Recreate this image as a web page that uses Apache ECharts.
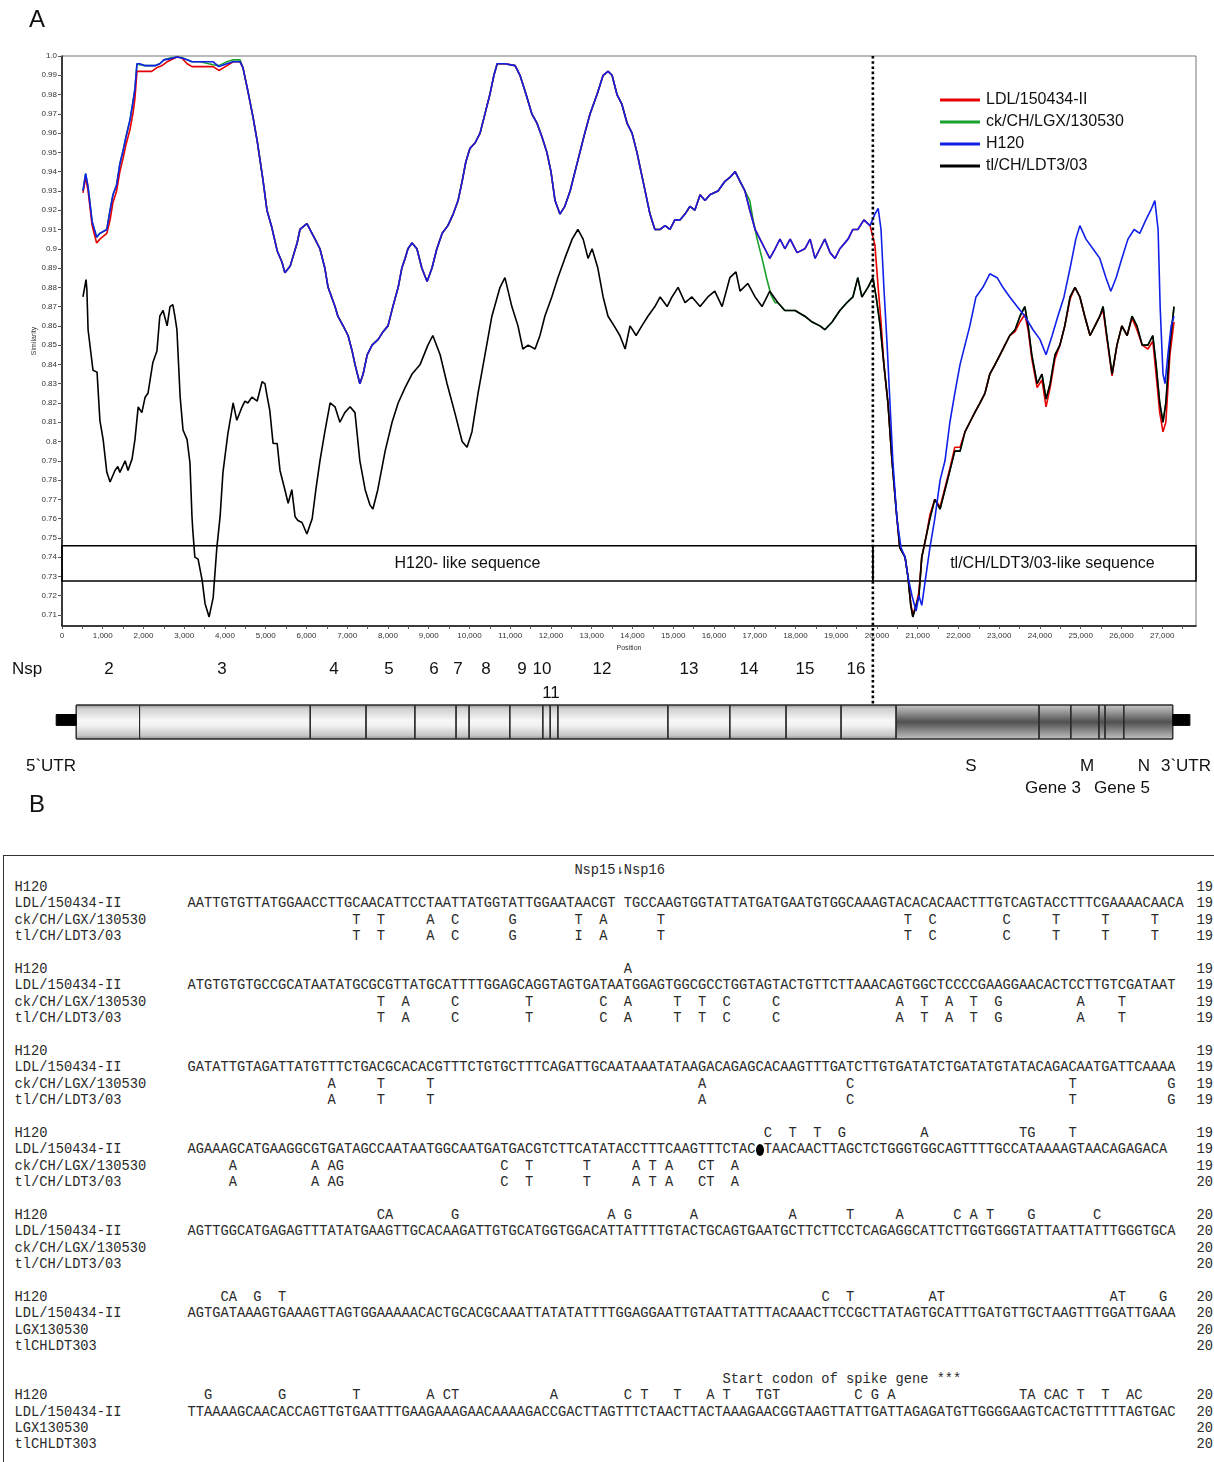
<!DOCTYPE html>
<html><head><meta charset="utf-8">
<script src="https://cdn.jsdelivr.net/npm/echarts@6/dist/echarts.min.js"></script>
<style>
html,body{margin:0;padding:0;background:#fff;width:1214px;height:1462px;overflow:hidden;}
#chart{position:absolute;left:0;top:0;width:1214px;height:852px;}
#align{position:absolute;left:3px;top:855px;width:1260px;height:640px;border-left:1.5px solid #333;border-top:1.5px solid #333;overflow:hidden;font-family:'Liberation Mono','DejaVu Sans Mono',monospace;font-size:13.72px;color:#2a2a2a;}
#align span{position:absolute;white-space:pre;height:16.4px;line-height:16.4px;}
.dot{position:static !important;display:inline-block;width:8.23px;height:12px !important;background:#000;border-radius:50%;vertical-align:middle;}
</style></head><body>
<div id="chart"></div>
<div id="align"></div>
<script>
// ---------------- Panel A data (position in bp, similarity) ----------------
const breakPos = 19900;
const xTicks = [0,1000,2000,3000,4000,5000,6000,7000,8000,9000,10000,11000,12000,13000,14000,15000,16000,17000,18000,19000,20000,21000,22000,23000,24000,25000,26000,27000];
const yTicks = [0.71,0.72,0.73,0.74,0.75,0.76,0.77,0.78,0.79,0.80,0.81,0.82,0.83,0.84,0.85,0.86,0.87,0.88,0.89,0.90,0.91,0.92,0.93,0.94,0.95,0.96,0.97,0.98,0.99,1.0];
const yTickLabels = ['0.71','0.72','0.73','0.74','0.75','0.76','0.77','0.78','0.79','0.8','0.81','0.82','0.83','0.84','0.85','0.86','0.87','0.88','0.89','0.9','0.91','0.92','0.93','0.94','0.95','0.96','0.97','0.98','0.99','1.0'];
const seriesNames = ['LDL/150434-II','ck/CH/LGX/130530','H120','tl/CH/LDT3/03'];

const h120Start = [[515,0.930],[580,0.939],[640,0.932],[740,0.914],[850,0.906],[930,0.908],[1100,0.910],[1180,0.920],[1250,0.928],[1340,0.933],[1420,0.944],[1500,0.951],[1570,0.958],[1670,0.967],[1740,0.976],[1790,0.983],[1840,0.996],[1910,0.996],[2040,0.995],[2280,0.995],[2400,0.996],[2500,0.998],[2650,0.9985],[2820,0.9995],[2940,0.999],[3070,0.998],[3190,0.997],[3390,0.997],[3710,0.997],[3850,0.9945],[4050,0.996],[4200,0.997],[4370,0.997]];
const ldlStart = [[515,0.929],[580,0.937],[640,0.930],[740,0.912],[850,0.903],[930,0.905],[1100,0.908],[1180,0.915],[1250,0.924],[1340,0.930],[1420,0.940],[1500,0.947],[1570,0.954],[1670,0.962],[1740,0.970],[1790,0.978],[1840,0.992],[1910,0.992],[2040,0.992],[2200,0.992],[2330,0.994],[2450,0.995],[2580,0.997],[2820,0.9995],[2940,0.999],[3070,0.996],[3190,0.9945],[3390,0.9945],[3710,0.9945],[3850,0.9925],[4050,0.995],[4200,0.997],[4370,0.997]];
const lgxStart = [[515,0.930],[580,0.939],[640,0.932],[740,0.914],[850,0.906],[930,0.908],[1100,0.910],[1180,0.920],[1250,0.928],[1340,0.933],[1420,0.944],[1500,0.951],[1570,0.958],[1670,0.967],[1740,0.976],[1790,0.983],[1840,0.996],[1910,0.9955],[2040,0.995],[2280,0.995],[2400,0.996],[2500,0.998],[2650,0.999],[2820,0.9995],[2940,0.9992],[3070,0.998],[3190,0.997],[3390,0.997],[3710,0.9955],[3850,0.995],[4050,0.997],[4200,0.998],[4370,0.998]];
const h120Mid = [[4440,0.994],[4560,0.982],[4690,0.968],[4790,0.956],[4930,0.936],[5030,0.920],[5150,0.911],[5280,0.899],[5400,0.893],[5470,0.8875],[5600,0.891],[5770,0.903],[5840,0.910],[6010,0.913],[6210,0.905],[6330,0.900],[6450,0.890],[6530,0.880],[6700,0.870],[6770,0.865],[6900,0.860],[7020,0.855],[7120,0.847],[7190,0.840],[7310,0.830],[7390,0.835],[7490,0.845],[7610,0.850],[7760,0.853],[7880,0.857],[8000,0.860],[8120,0.870],[8250,0.880],[8340,0.890],[8420,0.895],[8490,0.900],[8590,0.903],[8710,0.900],[8830,0.890],[8960,0.883],[9080,0.890],[9200,0.900],[9330,0.908],[9470,0.912],[9600,0.918],[9720,0.925],[9820,0.935],[9910,0.945],[10010,0.952],[10140,0.955],[10260,0.960],[10380,0.970],[10500,0.980],[10600,0.990],[10680,0.996],[10870,0.996],[11120,0.995],[11240,0.990],[11390,0.980],[11530,0.970],[11660,0.965],[11780,0.958],[11900,0.950],[12000,0.940],[12100,0.925],[12220,0.918],[12340,0.922],[12470,0.930],[12590,0.940],[12710,0.950],[12830,0.960],[12960,0.970],[13130,0.980],[13280,0.990],[13400,0.992],[13500,0.990],[13620,0.980],[13740,0.975],[13870,0.965],[13990,0.960],[14110,0.950],[14210,0.940],[14310,0.930],[14430,0.918],[14550,0.910],[14680,0.910],[14800,0.912],[14920,0.910],[15040,0.915],[15170,0.915],[15290,0.918],[15410,0.922],[15530,0.920],[15660,0.928],[15780,0.925],[15900,0.928],[16100,0.930],[16270,0.935],[16390,0.937],[16520,0.940],[16640,0.935],[16760,0.930]];
const h120Tail = [[16880,0.920],[17010,0.910],[17130,0.905],[17250,0.900],[17370,0.895],[17500,0.900],[17620,0.905],[17740,0.900],[17870,0.905],[18040,0.898],[18230,0.900],[18360,0.905],[18480,0.895],[18600,0.900],[18720,0.905],[18850,0.898],[18970,0.895],[19090,0.900],[19290,0.905],[19410,0.910],[19530,0.910],[19680,0.915],[19830,0.912]];
const h120End = [[19950,0.918],[20030,0.921],[20100,0.910],[20170,0.880],[20250,0.850],[20320,0.820],[20390,0.790],[20490,0.760],[20590,0.745],[20690,0.740],[20760,0.730],[20860,0.720],[20960,0.712],[21030,0.720],[21100,0.715],[21200,0.730],[21300,0.745],[21420,0.760],[21550,0.780],[21670,0.790],[21790,0.810],[21910,0.825],[22040,0.840],[22160,0.850],[22280,0.860],[22430,0.875],[22600,0.880],[22770,0.887],[22950,0.885],[23090,0.880],[23260,0.875],[23440,0.870],[23630,0.865],[23830,0.858],[24000,0.853],[24150,0.845],[24300,0.855],[24440,0.865],[24590,0.875],[24740,0.890],[24880,0.905],[24980,0.912],[25130,0.905],[25300,0.900],[25470,0.895],[25620,0.885],[25740,0.878],[25870,0.885],[26010,0.895],[26160,0.905],[26310,0.910],[26450,0.908],[26600,0.915],[26720,0.920],[26820,0.925],[26900,0.910],[26950,0.870],[27020,0.835],[27070,0.830],[27140,0.845],[27220,0.860],[27290,0.865]];
const ldlDrop = [[19950,0.902],[20030,0.880],[20100,0.862]];
const lgxDrop = [[16880,0.925],[16960,0.915],[17060,0.905],[17180,0.895],[17290,0.885],[17400,0.876],[17500,0.872]];
const tlHead = [[515,0.875],[590,0.884],[610,0.879],[640,0.858],[760,0.837],[860,0.836],[930,0.811],[1010,0.801],[1100,0.784],[1180,0.779],[1300,0.785],[1370,0.787],[1420,0.784],[1550,0.790],[1620,0.785],[1720,0.791],[1790,0.801],[1870,0.818],[1960,0.815],[2040,0.823],[2110,0.825],[2230,0.841],[2330,0.847],[2400,0.865],[2480,0.868],[2580,0.860],[2650,0.870],[2720,0.871],[2770,0.865],[2820,0.858],[2900,0.823],[2970,0.806],[3070,0.801],[3140,0.789],[3190,0.761],[3210,0.754],[3260,0.740],[3340,0.739],[3440,0.728],[3510,0.716],[3610,0.709],[3710,0.719],[3800,0.745],[3880,0.761],[3950,0.784],[4070,0.804],[4200,0.820],[4290,0.811],[4420,0.818],[4490,0.821],[4560,0.820],[4660,0.823],[4790,0.821],[4910,0.831],[4980,0.830],[5030,0.824],[5100,0.816],[5180,0.799],[5280,0.799],[5350,0.785],[5470,0.775],[5550,0.768],[5640,0.775],[5720,0.761],[5790,0.759],[5890,0.758],[6010,0.752],[6140,0.760],[6230,0.775],[6330,0.790],[6450,0.805],[6580,0.820],[6700,0.818],[6820,0.810],[6940,0.815],[7070,0.818],[7190,0.815],[7310,0.790],[7440,0.775],[7560,0.767],[7630,0.765],[7750,0.775],[7930,0.795],[8100,0.810],[8250,0.820],[8420,0.828],[8590,0.835],[8790,0.840],[8980,0.850],[9100,0.855],[9280,0.845],[9450,0.830],[9640,0.815],[9820,0.800],[9940,0.797],[10060,0.805],[10210,0.825],[10380,0.845],[10550,0.865],[10750,0.880],[10870,0.885],[11040,0.870],[11190,0.860],[11310,0.848],[11440,0.850],[11610,0.848],[11730,0.855],[11850,0.865],[12020,0.875],[12170,0.885],[12340,0.895],[12520,0.905],[12660,0.910],[12790,0.905],[12910,0.895],[13010,0.900],[13150,0.890],[13280,0.875],[13400,0.865],[13550,0.860],[13690,0.855],[13820,0.848],[13940,0.860],[14090,0.855],[14230,0.860],[14380,0.865],[14550,0.870],[14680,0.875],[14850,0.870],[14970,0.875],[15120,0.880],[15290,0.872],[15460,0.875],[15660,0.870],[15850,0.875],[16020,0.878],[16200,0.870],[16390,0.885],[16540,0.888],[16640,0.878],[16830,0.882],[17010,0.875],[17180,0.870],[17370,0.878]];
const tlMid = [[17570,0.872],[17740,0.868],[17990,0.868],[18230,0.865],[18410,0.862],[18600,0.860],[18720,0.858],[18900,0.862],[19090,0.868],[19260,0.872],[19410,0.875],[19530,0.885],[19630,0.875],[19780,0.880],[19900,0.885],[19980,0.875],[20080,0.860]];
const tlEnd = [[20170,0.840],[20270,0.820],[20370,0.790],[20470,0.765],[20560,0.745],[20690,0.740],[20760,0.730],[20830,0.715],[20880,0.709],[20960,0.715],[21030,0.720],[21100,0.740],[21200,0.750],[21300,0.760],[21420,0.770],[21550,0.765],[21670,0.775],[21790,0.785],[21910,0.795],[22040,0.795],[22160,0.805],[22280,0.810],[22400,0.815],[22530,0.820],[22650,0.825],[22770,0.835],[22900,0.840],[23020,0.845],[23140,0.850],[23260,0.855],[23390,0.858],[23510,0.865],[23630,0.870],[23710,0.860],[23800,0.845],[23930,0.830],[24050,0.835],[24150,0.822],[24250,0.830],[24370,0.845],[24490,0.850],[24610,0.860],[24740,0.875],[24860,0.880],[24980,0.875],[25100,0.865],[25230,0.855],[25350,0.860],[25470,0.865],[25550,0.870],[25640,0.855],[25770,0.835],[25890,0.850],[26010,0.860],[26140,0.855],[26260,0.865],[26380,0.860],[26510,0.850],[26650,0.850],[26770,0.855],[26850,0.840],[26940,0.820],[27020,0.810],[27090,0.820],[27190,0.850],[27290,0.870]];
const ldlEnd = [[20170,0.840],[20270,0.820],[20370,0.790],[20470,0.765],[20560,0.745],[20690,0.740],[20760,0.730],[20830,0.716],[20880,0.710],[20960,0.715],[21030,0.722],[21100,0.740],[21200,0.750],[21300,0.762],[21420,0.770],[21550,0.766],[21670,0.776],[21790,0.786],[21910,0.797],[22040,0.797],[22160,0.805],[22280,0.810],[22400,0.815],[22530,0.820],[22650,0.825],[22770,0.835],[22900,0.840],[23020,0.845],[23140,0.850],[23260,0.855],[23390,0.857],[23510,0.862],[23630,0.866],[23710,0.858],[23800,0.843],[23930,0.828],[24050,0.832],[24150,0.818],[24250,0.828],[24370,0.843],[24490,0.850],[24610,0.860],[24740,0.874],[24860,0.880],[24980,0.875],[25100,0.865],[25230,0.855],[25350,0.860],[25470,0.865],[25550,0.868],[25640,0.854],[25770,0.834],[25890,0.850],[26010,0.860],[26140,0.855],[26260,0.864],[26380,0.858],[26510,0.850],[26650,0.848],[26770,0.852],[26850,0.835],[26940,0.815],[27020,0.805],[27090,0.810],[27190,0.845],[27290,0.862]];

const boxLabels = ['H120- like sequence','tl/CH/LDT3/03-like sequence'];
const boxYRange = [0.7277, 0.7459];

// genome schematic (bp boundaries)
const nspBounds = [344,1900,6090,7460,8660,9670,9990,10990,11800,11980,12170,14870,16390,17770,19120,20470];
const structBounds = [20470,23980,24760,25450,25600,26060,27260];
const utrStubs = [[-147,344],[27260,27680]];

// ---------------- Panel B data ----------------
const alignLabelsLong = ['H120','LDL/150434-II','ck/CH/LGX/130530','tl/CH/LDT3/03'];
const alignLabelsShort = ['H120','LDL/150434-II','LGX130530','tlCHLDT303'];
const ldlSeqs = [
'AATTGTGTTATGGAACCTTGCAACATTCCTAATTATGGTATTGGAATAACGT TGCCAAGTGGTATTATGATGAATGTGGCAAAGTACACACAACTTTGTCAGTACCTTTCGAAAACAACA',
'ATGTGTGTGCCGCATAATATGCGCGTTATGCATTTTGGAGCAGGTAGTGATAATGGAGTGGCGCCTGGTAGTACTGTTCTTAAACAGTGGCTCCCCGAAGGAACACTCCTTGTCGATAAT',
'GATATTGTAGATTATGTTTCTGACGCACACGTTTCTGTGCTTTCAGATTGCAATAAATATAAGACAGAGCACAAGTTTGATCTTGTGATATCTGATATGTATACAGACAATGATTCAAAA',
'AGAAAGCATGAAGGCGTGATAGCCAATAATGGCAATGATGACGTCTTCATATACCTTTCAAGTTTCTAC●TAACAACTTAGCTCTGGGTGGCAGTTTTGCCATAAAAGTAACAGAGACA',
'AGTTGGCATGAGAGTTTATATGAAGTTGCACAAGATTGTGCATGGTGGACATTATTTTGTACTGCAGTGAATGCTTCTTCCTCAGAGGCATTCTTGGTGGGTATTAATTATTTGGGTGCA',
'AGTGATAAAGTGAAAGTTAGTGGAAAAACACTGCACGCAAATTATATATTTTGGAGGAATTGTAATTATTTACAAACTTCCGCTTATAGTGCATTTGATGTTGCTAAGTTTGGATTGAAA',
'TTAAAAGCAACACCAGTTGTGAATTTGAAGAAAGAACAAAAGACCGACTTAGTTTCTAACTTACTAAAGAACGGTAAGTTATTGATTAGAGATGTTGGGGAAGTCACTGTTTTTAGTGAC'
];
const h120Diffs = [
[],
[[53,'A']],
[],
[[70,'C'],[73,'T'],[76,'T'],[79,'G'],[89,'A'],[101,'TG'],[107,'T']],
[[23,'CA'],[32,'G'],[51,'A'],[53,'G'],[61,'A'],[73,'A'],[80,'T'],[86,'A'],[93,'C'],[95,'A'],[97,'T'],[102,'G'],[110,'C']],
[[4,'CA'],[8,'G'],[11,'T'],[77,'C'],[80,'T'],[90,'AT'],[112,'AT'],[118,'G']],
[[2,'G'],[11,'G'],[20,'T'],[29,'A'],[31,'CT'],[44,'A'],[53,'C'],[55,'T'],[59,'T'],[63,'A'],[65,'T'],[69,'TGT'],[81,'C'],[83,'G'],[85,'A'],[101,'TA'],[104,'CAC'],[108,'T'],[111,'T'],[114,'AC']]
];
const lgxDiffs = [
[[20,'T'],[23,'T'],[29,'A'],[32,'C'],[39,'G'],[47,'T'],[50,'A'],[57,'T'],[87,'T'],[90,'C'],[99,'C'],[105,'T'],[111,'T'],[117,'T']],
[[23,'T'],[26,'A'],[32,'C'],[41,'T'],[50,'C'],[53,'A'],[59,'T'],[62,'T'],[65,'C'],[71,'C'],[86,'A'],[89,'T'],[92,'A'],[95,'T'],[98,'G'],[108,'A'],[113,'T']],
[[17,'A'],[23,'T'],[29,'T'],[62,'A'],[80,'C'],[107,'T'],[119,'G']],
[[5,'A'],[15,'A'],[17,'AG'],[38,'C'],[41,'T'],[48,'T'],[54,'A'],[56,'T'],[58,'A'],[62,'CT'],[66,'A']],
[],[],[]
];
const tlDiffs = [
[[20,'T'],[23,'T'],[29,'A'],[32,'C'],[39,'G'],[47,'I'],[50,'A'],[57,'T'],[87,'T'],[90,'C'],[99,'C'],[105,'T'],[111,'T'],[117,'T']],
[[23,'T'],[26,'A'],[32,'C'],[41,'T'],[50,'C'],[53,'A'],[59,'T'],[62,'T'],[65,'C'],[71,'C'],[86,'A'],[89,'T'],[92,'A'],[95,'T'],[98,'G'],[108,'A'],[113,'T']],
[[17,'A'],[23,'T'],[29,'T'],[62,'A'],[80,'C'],[107,'T'],[119,'G']],
[[5,'A'],[15,'A'],[17,'AG'],[38,'C'],[41,'T'],[48,'T'],[54,'A'],[56,'T'],[58,'A'],[62,'CT'],[66,'A']],
[],[],[]
];
const rowNumbers = [['19','19','19','19'],['19','19','19','19'],['19','19','19','19'],['19','19','19','20'],['20','20','20','20'],['20','20','20','20'],['20','20','20','20']];
const nspAnnot = [47,'Nsp15\u21C2Nsp16'];
const spikeAnnot = [65,'Start codon of spike gene ***'];

// ---------------- Chart ----------------
const chart = echarts.init(document.getElementById('chart'), null, {renderer:'canvas'});
const FONT = '"Liberation Sans", Arial, sans-serif';
const NARROW = '"Liberation Sans Narrow", "Liberation Sans", Arial, sans-serif';

function fmtX(v){ return v === 0 ? '0' : Number(v).toLocaleString('en-US'); }
function fmtY(v){ for (let i=0;i<yTicks.length;i++){ if (Math.abs(yTicks[i]-v)<1e-6) return yTickLabels[i]; } return ''; }
const xTickMarks = []; for (let v=0; v<=27500; v+=500) xTickMarks.push(v);

const genomeSegs = [];
for (let i=0;i<nspBounds.length-1;i++) genomeSegs.push([nspBounds[i], nspBounds[i+1], 0]);
for (let i=0;i<structBounds.length-1;i++) genomeSegs.push([structBounds[i], structBounds[i+1], 1]);
utrStubs.forEach(s => genomeSegs.push([s[0], s[1], 2]));

const lightFill = {type:'linear',x:0,y:0,x2:0,y2:1,colorStops:[{offset:0,color:'#8e8e8e'},{offset:0.12,color:'#cfcfcf'},{offset:0.45,color:'#f7f7f7'},{offset:0.6,color:'#f2f2f2'},{offset:0.88,color:'#c8c8c8'},{offset:1,color:'#8a8a8a'}]};
const darkFill = {type:'linear',x:0,y:0,x2:0,y2:1,colorStops:[{offset:0,color:'#c8c8c8'},{offset:0.2,color:'#9c9c9c'},{offset:0.5,color:'#505050'},{offset:0.8,color:'#959595'},{offset:1,color:'#c4c4c4'}]};

const lineBase = {type:'line', showSymbol:false, symbol:'none', xAxisIndex:0, yAxisIndex:0, lineStyle:{width:1.6}, emphasis:{disabled:true}};

const option = {
  animation:false,
  backgroundColor:'#fff',
  textStyle:{fontFamily:FONT},
  grid:[
    {left:62, top:56, width:1134, height:570, show:true, borderColor:'#777', borderWidth:1},
    {left:52, top:705, width:1144, height:34}
  ],
  xAxis:[
    {type:'value', gridIndex:0, min:0, max:27830, name:'Position', nameLocation:'middle', nameGap:16,
     nameTextStyle:{fontSize:7, color:'#333'},
     axisLine:{show:true, onZero:false, lineStyle:{color:'#111', width:1.5}},
     axisTick:{show:true, customValues:xTickMarks, length:3, lineStyle:{color:'#555'}},
     axisLabel:{customValues:xTicks, formatter:fmtX, fontSize:8, color:'#333', margin:6},
     splitLine:{show:false}},
    {type:'value', gridIndex:1, min:-250, max:27830, show:false}
  ],
  yAxis:[
    {type:'value', gridIndex:0, min:0.7043, max:1.0, name:'Similarity', nameLocation:'middle', nameGap:24, nameMoveOverlap:false,
     nameTextStyle:{fontSize:7, color:'#333'},
     axisLine:{show:true, onZero:false, lineStyle:{color:'#111', width:1.5}},
     axisTick:{show:true, customValues:yTicks, length:4, lineStyle:{color:'#555'}},
     axisLabel:{customValues:yTicks, formatter:fmtY, fontSize:8, color:'#333', margin:5},
     splitLine:{show:false}},
    {type:'value', gridIndex:1, min:0, max:1, show:false}
  ],
  legend:{
    data:seriesNames, orient:'vertical', left:935, top:86, itemWidth:40, itemHeight:3, itemGap:4, icon:'rect',
    selectedMode:false,
    textStyle:{fontSize:16, color:'#111', fontFamily:FONT, lineHeight:18, padding:[0,0,0,1]}
  },
  series:[
    Object.assign({}, lineBase, {name:seriesNames[0], z:3, color:'#e60000', data: ldlStart.concat(h120Mid, h120Tail, ldlDrop, ldlEnd)}),
    Object.assign({}, lineBase, {name:seriesNames[1], z:2, color:'#17a02a', data: lgxStart.concat(h120Mid, lgxDrop, tlMid, tlEnd)}),
    Object.assign({}, lineBase, {name:seriesNames[2], z:5, color:'#1020e8', data: h120Start.concat(h120Mid, h120Tail, h120End)}),
    Object.assign({}, lineBase, {name:seriesNames[3], z:4, color:'#000000', data: tlHead.concat(tlMid, tlEnd),
      markArea:{silent:true,
        itemStyle:{color:'rgba(0,0,0,0)', borderColor:'#000', borderWidth:1.5},
        label:{show:true, position:'inside', fontSize:16, color:'#111', fontFamily:FONT},
        data:[
          [{name:boxLabels[0], xAxis:0, yAxis:boxYRange[0]},{xAxis:breakPos, yAxis:boxYRange[1]}],
          [{name:boxLabels[1], xAxis:breakPos, yAxis:boxYRange[0], label:{offset:[18,0]}},{xAxis:27830, yAxis:boxYRange[1]}]
        ]}}),
    {type:'custom', name:'genome', xAxisIndex:1, yAxisIndex:1, silent:true, clip:false, z:2,
     data: genomeSegs,
     renderItem: function(params, api){
       const s = api.value(0), e = api.value(1), k = api.value(2);
       const top = k === 2 ? 0.72 : 1, bot = k === 2 ? 0.40 : 0;
       const p0 = api.coord([s, top]), p1 = api.coord([e, bot]);
       return {type:'rect', shape:{x:p0[0], y:p0[1], width:p1[0]-p0[0], height:p1[1]-p0[1]},
         style:{fill: k===0 ? lightFill : (k===1 ? darkFill : '#000'), stroke: k===2 ? '#000' : '#2a2a2a', lineWidth: 1}};
     }}
  ]
};
chart.setOption(option);

// annotation texts & dotted break line (break x from the axis scale)
const bx = chart.convertToPixel({xAxisIndex:0}, breakPos);
const yTop = chart.convertToPixel({yAxisIndex:0}, 1.0);
const yBar = chart.convertToPixel({yAxisIndex:1}, 1);
const nspLabels = [['Nsp',27],['2',109],['3',222],['4',334],['5',389],['6',434],['7',458],['8',486],['9',522],['10',542],['12',602],['13',689],['14',749],['15',805],['16',856]];
const geneLabels = [['11',551,693],['5`UTR',51,766],['S',971,766],['M',1087,766],['N',1144,766],['3`UTR',1186,766],['Gene 3',1053,788],['Gene 5',1122,788]];
const graphics = [
  {type:'line', z:100, shape:{x1:bx, y1:yTop, x2:bx, y2:yBar}, style:{stroke:'#000', lineWidth:2.6, lineDash:[2.6,2.6]}},
  {type:'text', x:37, y:20, style:{text:'A', fontSize:24, fontFamily:FONT, fill:'#111', align:'center', verticalAlign:'middle'}},
  {type:'text', x:37, y:805, style:{text:'B', fontSize:24, fontFamily:FONT, fill:'#111', align:'center', verticalAlign:'middle'}}
];
nspLabels.forEach(l => graphics.push({type:'text', x:l[1], y:669, style:{text:l[0], fontSize:17, fontFamily:NARROW, fill:'#111', align:'center', verticalAlign:'middle'}}));
geneLabels.forEach(l => graphics.push({type:'text', x:l[1], y:l[2], style:{text:l[0], fontSize:17, fontFamily:NARROW, fill:'#111', align:'center', verticalAlign:'middle'}}));
chart.setOption({graphic: graphics});

// ---------------- Alignment panel ----------------
const alignEl = document.getElementById('align');
const ROW_H = 16.4, ROW0 = 7.4, LBL_X = 10.5, SEQ_X = 183.5, CW = 8.232, NUM_X = 1192.5;
function diffLine(diffs){
  const a = [];
  diffs.forEach(d => { for (let k=0;k<d[1].length;k++) a[d[0]+k] = d[1][k]; });
  let s = ''; for (let i=0;i<a.length;i++) s += (a[i] || ' ');
  return s;
}
function put(row, left, text, html){
  const sp = document.createElement('span');
  sp.style.top = (ROW0 + row*ROW_H) + 'px';
  sp.style.left = left + 'px';
  if (html) sp.innerHTML = html; else sp.textContent = text;
  alignEl.appendChild(sp);
}
put(0, SEQ_X + nspAnnot[0]*CW, nspAnnot[1]);
for (let b=0;b<7;b++){
  const base = b < 6 ? 1 + 5*b : 32;
  if (b === 6) put(31, SEQ_X + spikeAnnot[0]*CW, spikeAnnot[1]);
  const labels = b >= 5 ? alignLabelsShort : alignLabelsLong;
  const seq = ldlSeqs[b];
  const rows = [diffLine(h120Diffs[b]), null, diffLine(lgxDiffs[b]), diffLine(tlDiffs[b])];
  for (let r=0;r<4;r++){
    put(base+r, LBL_X, labels[r]);
    if (r === 1) {
      if (seq.indexOf('\u25CF') >= 0) put(base+r, SEQ_X, null, seq.replace('\u25CF','<span class="dot"> </span>'));
      else put(base+r, SEQ_X, seq);
    } else if (rows[r].trim().length) put(base+r, SEQ_X, rows[r]);
    put(base+r, NUM_X, rowNumbers[b][r]);
  }
}
</script>
</body></html>
